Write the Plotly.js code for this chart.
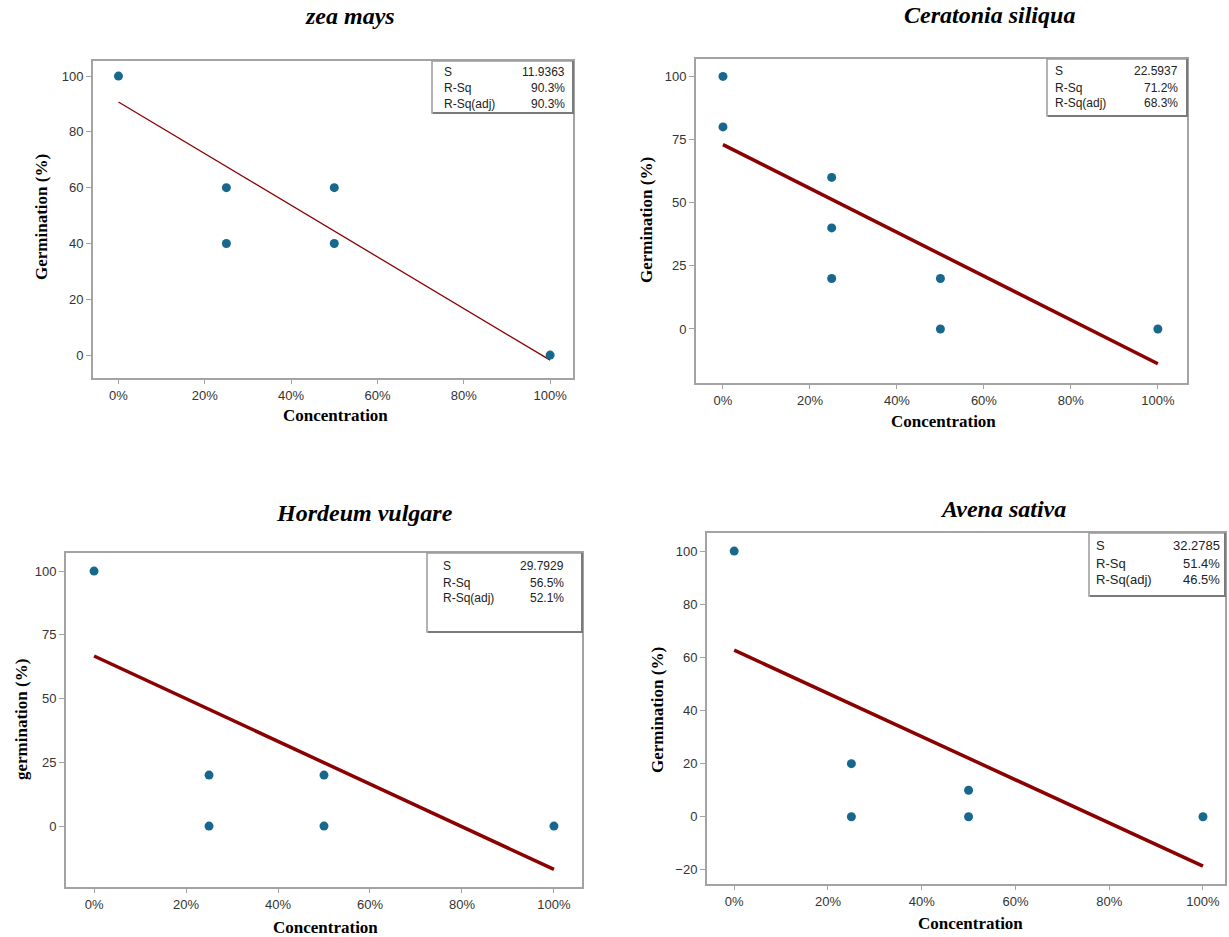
<!DOCTYPE html>
<html><head><meta charset="utf-8">
<script src="https://cdn.plot.ly/plotly-3.0.1.min.js"></script>
<style>html,body{margin:0;padding:0;background:#fff}#chart{width:1229px;height:937px}</style>
</head><body><div id="chart"></div>
<script>
// ---------- data ----------
const speciesNames = ["zea mays", "Ceratonia siliqua", "Hordeum vulgare", "Avena sativa"];
const yAxisTitles = ["Germination (%)", "Germination (%)", "germination (%)", "Germination (%)"];
const xAxisTitle = "Concentration";

const zeaX = [0, 25, 25, 50, 50, 100];
const zeaY = [100, 60, 40, 60, 40, 0];
const ceraX = [0, 0, 25, 25, 25, 50, 50, 100];
const ceraY = [100, 80, 60, 40, 20, 20, 0, 0];
const hordX = [0, 25, 25, 50, 50, 100];
const hordY = [100, 20, 0, 20, 0, 0];
const avenX = [0, 25, 25, 50, 50, 100];
const avenY = [100, 20, 0, 10, 0, 0];

const fitX = [0, 100];
const zeaFit = [90.7, -1.8];
const ceraFit = [73.0, -13.8];
const hordFit = [66.7, -17.0];
const avenFit = [62.7, -18.6];

const statLabels = ["S", "R-Sq", "R-Sq(adj)"];
const zeaStats = ["11.9363", "90.3%", "90.3%"];
const ceraStats = ["22.5937", "71.2%", "68.3%"];
const hordStats = ["29.7929", "56.5%", "52.1%"];
const avenStats = ["32.2785", "51.4%", "46.5%"];

const xTickVals = [0, 20, 40, 60, 80, 100];
const xTickText = ["0%", "20%", "40%", "60%", "80%", "100%"];
const yTicksA = [0, 20, 40, 60, 80, 100];
const yTicksB = [0, 25, 50, 75, 100];
const yTicksC = [-20, 0, 20, 40, 60, 80, 100];

// ---------- layout helpers (pixel geometry) ----------
const W = 1229, H = 937;
const fx = p => p / W;
const fy = p => 1 - p / H;

const panels = [
  { xs: zeaX, ys: zeaY, fit: zeaFit, stats: zeaStats, yticks: yTicksA, lw: 1.3,
    frame: [93, 61, 573, 378], xr: [-5.9, 105.3], yr: [-8.2, 105.4],
    title: [350, 16], xt: [335, 415], yt: [42, 217],
    box: [432, 61, 573, 113], rows: [72, 88, 104], tl: 442, tr: 567, fs: 12 },
  { xs: ceraX, ys: ceraY, fit: ceraFit, stats: ceraStats, yticks: yTicksB, lw: 3.5,
    frame: [696, 59, 1187, 383], xr: [-6.2, 106.7], yr: [-21.4, 106.9],
    title: [989, 15], xt: [944, 421], yt: [647, 220],
    box: [1047, 59, 1187, 116], rows: [71, 88, 103], tl: 1053, tr: 1180, fs: 12 },
  { xs: hordX, ys: hordY, fit: hordFit, stats: hordStats, yticks: yTicksB, lw: 3.5,
    frame: [66, 553, 582, 887], xr: [-6.1, 106.1], yr: [-23.9, 107.1],
    title: [364, 513], xt: [325, 927], yt: [21, 720],
    box: [427, 553, 582, 632], rows: [566, 583, 598], tl: 441, tr: 566, fs: 12 },
  { xs: avenX, ys: avenY, fit: avenFit, stats: avenStats, yticks: yTicksC, lw: 3.5,
    frame: [707, 533, 1225, 884], xr: [-5.8, 104.7], yr: [-25.3, 106.8],
    title: [1003, 509], xt: [970, 923], yt: [657, 710],
    box: [1089, 533, 1225, 596], rows: [545, 563, 579], tl: 1094, tr: 1222, fs: 13 }
];

const markerColor = "#17688c";
const lineColor = "#8b0000";
const frameColor = "#a3a3a3";
const serif = "Liberation Serif, Times New Roman, serif";
const sans = "Liberation Sans, Arial, sans-serif";

const traces = [];
const layout = {
  width: W, height: H, margin: { l: 0, r: 0, t: 0, b: 0 },
  paper_bgcolor: "#fff", plot_bgcolor: "#fff", showlegend: false,
  shapes: [], annotations: []
};

panels.forEach((p, i) => {
  const n = i === 0 ? "" : String(i + 1);
  const xa = "x" + n, ya = "y" + n;
  traces.push({
    type: "scatter", mode: "lines", x: fitX, y: p.fit, xaxis: xa, yaxis: ya,
    line: { color: lineColor, width: p.lw }, hoverinfo: "skip"
  });
  traces.push({
    type: "scatter", mode: "markers", x: p.xs, y: p.ys, xaxis: xa, yaxis: ya,
    marker: { color: markerColor, size: 9, symbol: "circle" }
  });
  const [l, t, r, b] = p.frame;
  layout["xaxis" + n] = {
    domain: [fx(l), fx(r)], range: p.xr, anchor: ya,
    tickvals: xTickVals, ticktext: xTickText,
    showgrid: false, zeroline: false, showline: true, mirror: true,
    linecolor: frameColor, linewidth: 2,
    ticks: "outside", ticklen: 4, tickwidth: 1, tickcolor: frameColor,
    tickfont: { family: sans, size: 13, color: "#333" }, fixedrange: true
  };
  layout["yaxis" + n] = {
    domain: [fy(b), fy(t)], range: p.yr, anchor: xa,
    tickvals: p.yticks,
    showgrid: false, zeroline: false, showline: true, mirror: true,
    linecolor: frameColor, linewidth: 2,
    ticks: "outside", ticklen: 5, tickwidth: 1, tickcolor: frameColor,
    tickfont: { family: sans, size: 13, color: "#333" }, fixedrange: true
  };
  // titles
  layout.annotations.push({
    xref: "paper", yref: "paper", x: fx(p.title[0]), y: fy(p.title[1]),
    xanchor: "center", yanchor: "middle", showarrow: false,
    text: "<b><i>" + speciesNames[i] + "</i></b>",
    font: { family: serif, size: 24, color: "#000" }
  });
  layout.annotations.push({
    xref: "paper", yref: "paper", x: fx(p.xt[0]), y: fy(p.xt[1]),
    xanchor: "center", yanchor: "middle", showarrow: false,
    text: "<b>" + xAxisTitle + "</b>",
    font: { family: serif, size: 17, color: "#000" }
  });
  layout.annotations.push({
    xref: "paper", yref: "paper", x: fx(p.yt[0]), y: fy(p.yt[1]),
    xanchor: "center", yanchor: "middle", showarrow: false, textangle: -90,
    text: "<b>" + yAxisTitles[i] + "</b>",
    font: { family: serif, size: 17, color: "#000" }
  });
  // stat box
  const [bl, bt, br, bb] = p.box;
  layout.shapes.push({
    type: "rect", xref: "paper", yref: "paper", layer: "above",
    x0: fx(bl), x1: fx(br), y0: fy(bb), y1: fy(bt),
    line: { color: "#9a9a9a", width: 1.5 }, fillcolor: "#fff"
  });
  layout.shapes.push({
    type: "path", xref: "paper", yref: "paper", layer: "above",
    path: "M " + fx(bl + 1) + " " + fy(bb) + " L " + fx(br) + " " + fy(bb) + " L " + fx(br) + " " + fy(bt),
    line: { color: "#7a7a7a", width: 2 }
  });
  statLabels.forEach((lab, k) => {
    layout.annotations.push({
      xref: "paper", yref: "paper", x: fx(p.tl), y: fy(p.rows[k]),
      xanchor: "left", yanchor: "middle", showarrow: false, text: lab,
      font: { family: sans, size: p.fs, color: "#222" }
    });
    layout.annotations.push({
      xref: "paper", yref: "paper", x: fx(p.tr), y: fy(p.rows[k]),
      xanchor: "right", yanchor: "middle", showarrow: false, text: p.stats[k],
      font: { family: sans, size: p.fs, color: "#222" }
    });
  });
});

Plotly.newPlot("chart", traces, layout, { staticPlot: true, displayModeBar: false });
</script>
</body></html>
